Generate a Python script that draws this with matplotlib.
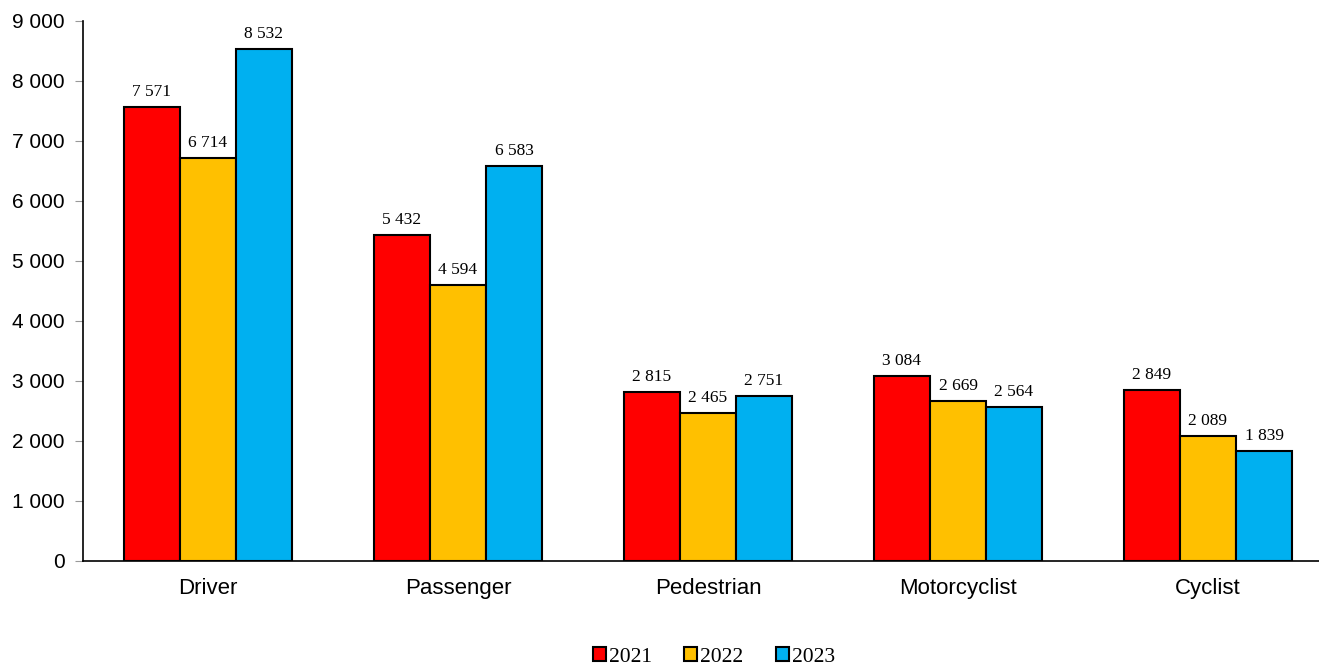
import matplotlib
matplotlib.use("Agg")
import matplotlib.pyplot as plt
import numpy as np
from matplotlib.ticker import FuncFormatter

categories = ["Driver", "Passenger", "Pedestrian", "Motorcyclist", "Cyclist"]
years = ["2021", "2022", "2023"]
values_2021 = [7571, 5432, 2815, 3084, 2849]
values_2022 = [6714, 4594, 2465, 2669, 2089]
values_2023 = [8532, 6583, 2751, 2564, 1839]
series = [values_2021, values_2022, values_2023]
colors = ["#FF0000", "#FFC000", "#00B0F0"]


def fmt_thousands(v):
    return f"{int(round(v)):,}".replace(",", " ")


fig = plt.figure(figsize=(13.19, 6.66), dpi=100)
ax = fig.add_axes([83 / 1319, 105 / 666, (1319 - 83) / 1319, (561 - 21) / 666])

x = np.arange(len(categories))
w = 0.224
for i, (vals, c, yr) in enumerate(zip(series, colors, years)):
    pos = x + (i - 1) * w
    ax.bar(pos, vals, width=w, color=c, edgecolor="black", linewidth=1.5, label=yr, zorder=2)
    for xp, v in zip(pos, vals):
        ax.annotate(fmt_thousands(v), (xp, v), xytext=(0, 5), textcoords="offset points",
                    ha="center", va="bottom", fontsize=12.5, family="Liberation Serif")

ax.set_ylim(0, 9000)
ax.set_yticks(np.arange(0, 9001, 1000))
ax.yaxis.set_major_formatter(FuncFormatter(lambda v, p: fmt_thousands(v)))
ax.set_xlim(-0.5, 4.5 - 14 / 250)
ax.set_xticks(x)
ax.set_xticklabels(categories)

for lbl in ax.get_yticklabels():
    lbl.set_family("Liberation Sans")
    lbl.set_fontsize(15)
for lbl in ax.get_xticklabels():
    lbl.set_family("Liberation Sans")
    lbl.set_fontsize(16)

ax.spines["top"].set_visible(False)
ax.spines["right"].set_visible(False)
ax.spines["left"].set_linewidth(1.2)
ax.spines["bottom"].set_linewidth(1.2)
ax.tick_params(axis="y", direction="out", length=6, color="#999999", pad=7)
ax.tick_params(axis="x", length=0, pad=12)

fig.legend(loc="center", bbox_to_anchor=(714 / 1319, 9 / 666), ncol=3, frameon=False,
           prop={"family": "Liberation Serif", "size": 15.5}, handlelength=0.6,
           handleheight=0.6, handletextpad=0.15, columnspacing=1.5)

fig.savefig("out.png", dpi=100)
